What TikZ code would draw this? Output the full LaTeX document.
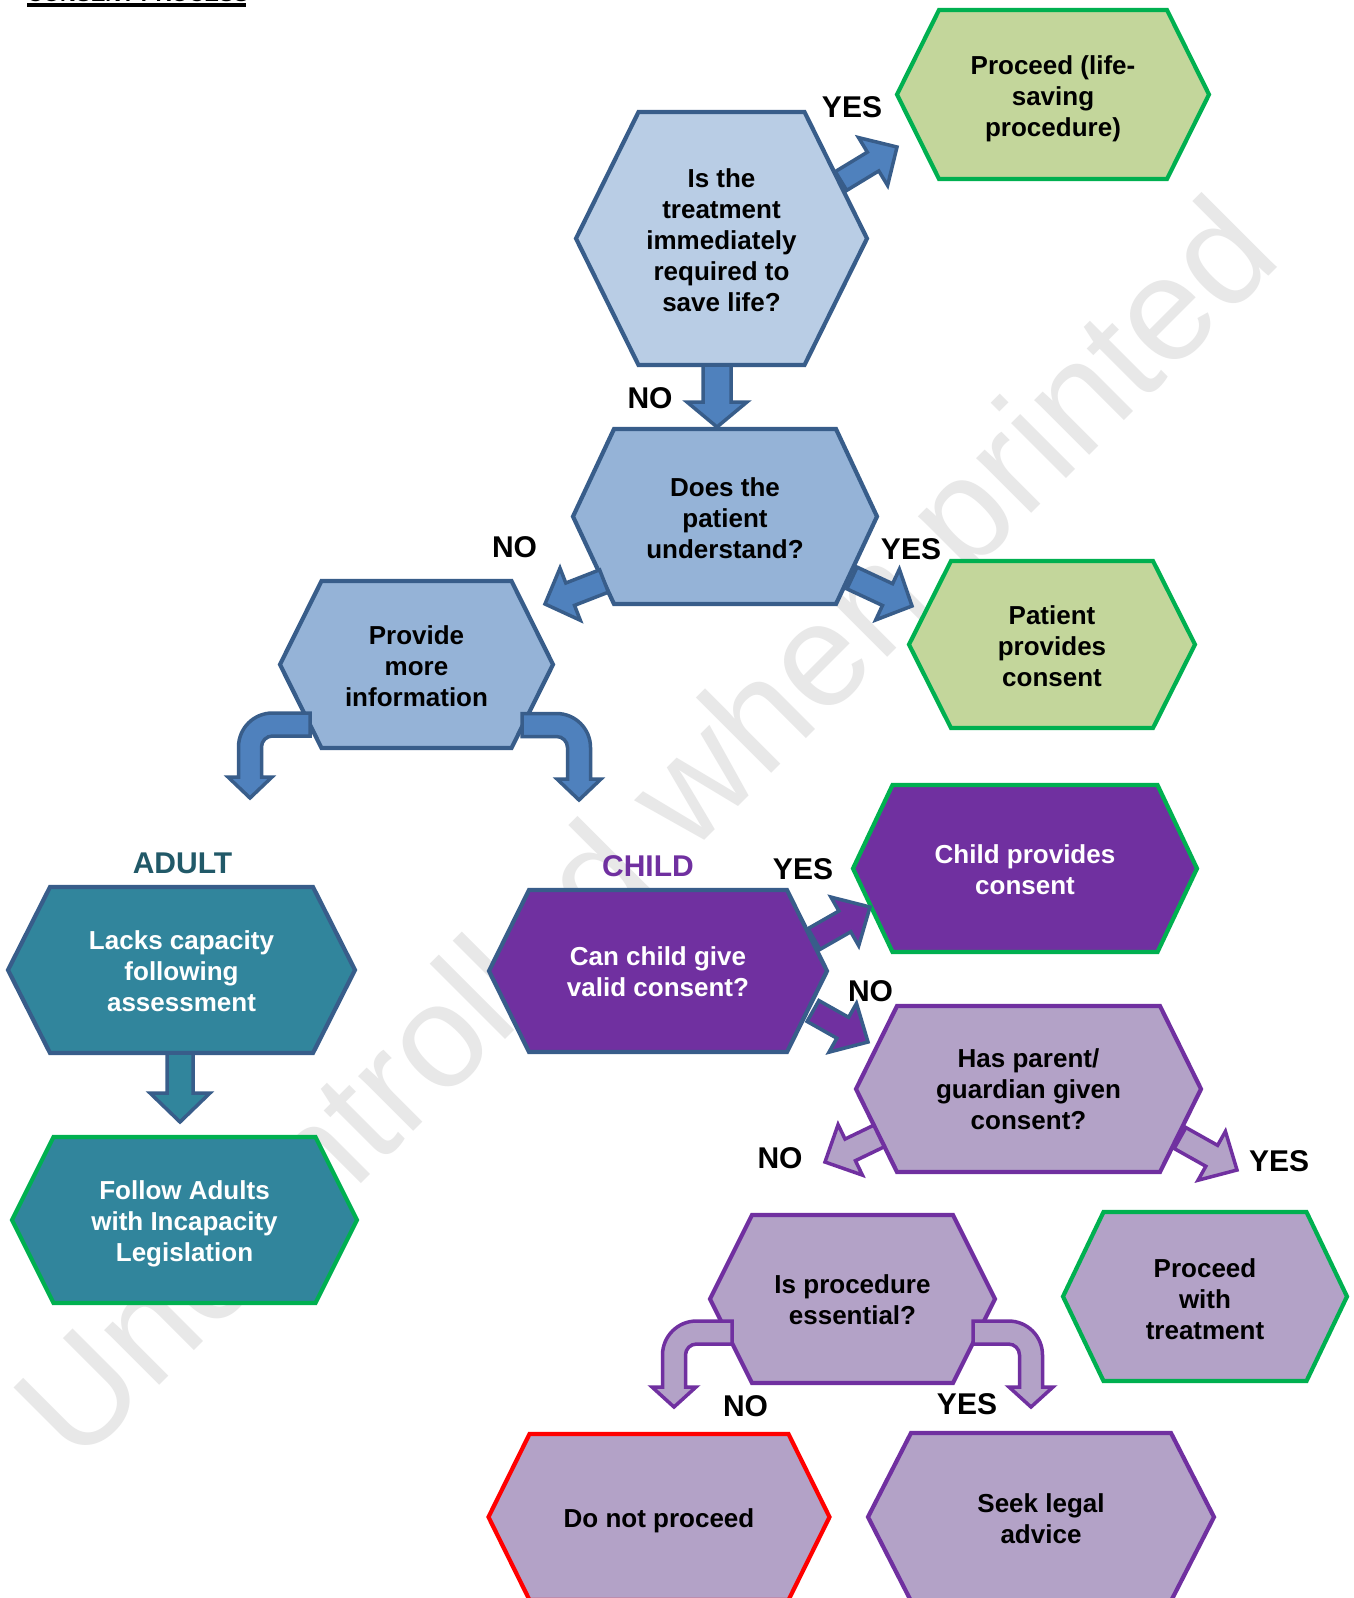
\documentclass[tikz,border=0pt]{standalone}
\usepackage{fontspec}
\setmainfont{Liberation Sans}
\newfontfamily\wmfont{Liberation Sans}
\usetikzlibrary{calc}
\definecolor{cBD}{RGB}{56,93,138}
\definecolor{cLBa}{RGB}{185,205,229}
\definecolor{cLBb}{RGB}{149,179,215}
\definecolor{cAB}{RGB}{79,129,189}
\definecolor{cGF}{RGB}{195,214,155}
\definecolor{cGL}{RGB}{0,176,80}
\definecolor{cTeal}{RGB}{49,133,156}
\definecolor{cAdult}{RGB}{33,89,104}
\definecolor{cPur}{RGB}{112,48,160}
\definecolor{cLav}{RGB}{179,162,199}
\definecolor{cRed}{RGB}{255,0,0}
\definecolor{cWM}{RGB}{232,232,232}
\tikzset{
  hexbase/.style={line width=4.2pt},
  ntext/.style={font=\fontsize{26}{31}\selectfont\bfseries, align=center, inner sep=0pt},
  lbl/.style={font=\fontsize{30}{30}\selectfont\bfseries, inner sep=0pt},
  bluearrow/.style={fill=cAB, draw=cBD, line width=3.5pt},
  tealarrow/.style={fill=cTeal, draw=cBD, line width=3.5pt},
  purarrow/.style={fill=cPur, draw=cBD, line width=3.5pt},
  lavarrow/.style={fill=cLav, draw=cPur, line width=3.5pt},
}
% hexagon: name, cx, cy, half top width, half point width, half height, style, text options, text
\newcommand\hexnode[9]{%
  \draw[hexbase,#7] ({#2-#5},{#3}) -- ({#2-#4},{#3-#6}) -- ({#2+#4},{#3-#6}) -- ({#2+#5},{#3})
     -- ({#2+#4},{#3+#6}) -- ({#2-#4},{#3+#6}) -- cycle;
  \node[ntext,#8] (#1) at (#2,#3) {#9};
}
% straight block arrow: style, from, to, body half width, head half width, head length
\newcommand\barrow[6]{%
  \coordinate (bh) at ($(#3)!#6!(#2)$);
  \draw[#1] ($(#2)!#4!90:(#3)$) -- ($(bh)!#4!90:(#3)$) -- ($(bh)!#5!90:(#3)$) -- (#3)
     -- ($(bh)!#5!-90:(#3)$) -- ($(bh)!#4!-90:(#3)$) -- ($(#2)!#4!-90:(#3)$) -- cycle;
}
% bent block arrow: style, tail x, horizontal centre y, vertical centre x, wing y, tip y, side (+1 right, -1 left)
\newcommand\bentarrow[7]{%
  \pgfmathsetmacro\bab{11.5}%
  \pgfmathsetmacro\bah{22}%
  \pgfmathsetmacro\baRo{34}%
  \pgfmathsetmacro\baRi{\baRo-2*\bab}%
  \pgfmathsetmacro\bayt{#3-\bab}%
  \pgfmathsetmacro\bayb{#3+\bab}%
  \pgfmathsetmacro\baxo{#4+(#7)*\bab}%
  \pgfmathsetmacro\baxi{#4-(#7)*\bab}%
  \pgfmathsetmacro\bacx{\baxo-(#7)*\baRo}%
  \pgfmathsetmacro\bacy{\bayt+\baRo}%
  \pgfmathsetmacro\bako{0.5523*\baRo}%
  \pgfmathsetmacro\baki{0.5523*\baRi}%
  \draw[#1] (#2,\bayt) -- (\bacx,\bayt) .. controls ({\bacx+(#7)*\bako},\bayt) and (\baxo,{\bacy-\bako}) .. (\baxo,\bacy)
     -- (\baxo,#5) -- ({#4+(#7)*\bah},#5) -- (#4,#6) -- ({#4-(#7)*\bah},#5) -- (\baxi,#5) -- (\baxi,\bacy)
     .. controls (\baxi,{\bacy-\baki}) and ({\bacx+(#7)*\baki},\bayb) .. (\bacx,\bayb) -- (#2,\bayb) -- cycle;
}
\begin{document}
\begin{tikzpicture}[x=1pt,y=-1pt]
\useasboundingbox (0,0) rectangle (1354,1598);
\clip (0,0) rectangle (1354,1598);
\fill[white] (0,0) rectangle (1354,1598);

% watermark
\node[font=\wmfont\fontsize{147}{147}\selectfont, text=cWM, rotate=45, anchor=base, inner sep=0pt] (wm) at (681,864) {Uncontrolled when printed};

% title (cut off at top)
\node[anchor=base west, font=\fontsize{22}{22}\selectfont\bfseries, inner sep=0pt] (title) at (27,1.5) {CONSENT PROCESS};
\fill[black] (27,2.5) rectangle (246,7);

% hexagons
\hexnode{q1}{721.5}{238.5}{83}{145.5}{126.5}{fill=cLBa,draw=cBD}{text=black,yshift=-2pt}{Is the\\treatment\\immediately\\required to\\save life?}
\hexnode{pls}{1053}{94.5}{114}{156}{84.5}{fill=cGF,draw=cGL}{text=black,yshift=-4pt}{Proceed (life-\\saving\\procedure)}
\hexnode{und}{725}{516.5}{111}{152}{87.5}{fill=cLBb,draw=cBD}{text=black,yshift=-2pt}{Does the\\patient\\understand?}
\hexnode{ppc}{1052}{644.5}{101}{143}{83.5}{fill=cGF,draw=cGL}{text=black,yshift=-2pt}{Patient\\provides\\consent}
\hexnode{pmi}{416.5}{664.5}{95}{136.5}{83.5}{fill=cLBb,draw=cBD}{text=black,yshift=-2pt}{Provide\\more\\information}
\hexnode{lca}{181.5}{970}{131.5}{173.5}{83}{fill=cTeal,draw=cBD}{text=white,yshift=-1pt}{Lacks capacity\\following\\assessment}
\hexnode{fai}{184.5}{1220}{131}{172.5}{83}{fill=cTeal,draw=cGL}{text=white,yshift=-4pt}{Follow Adults\\with Incapacity\\Legislation}
\hexnode{ccg}{658}{971}{129}{169}{81}{fill=cPur,draw=cBD}{text=white,yshift=-1pt}{Can child give\\valid consent?}
\hexnode{cpc}{1025}{868.5}{132.5}{172}{83.5}{fill=cPur,draw=cGL}{text=white,yshift=-1pt}{Child provides\\consent}
\hexnode{hpg}{1028.5}{1089}{131.5}{172.5}{83}{fill=cLav,draw=cPur}{text=black}{Has parent/\\guardian given\\consent?}
\hexnode{pwt}{1205}{1296.5}{101.5}{142}{84.5}{fill=cLav,draw=cGL}{text=black,yshift=-3pt}{Proceed\\with\\treatment}
\hexnode{ipe}{852.5}{1299}{100.5}{142.5}{84}{fill=cLav,draw=cPur}{text=black,yshift=-1pt}{Is procedure\\essential?}
\hexnode{dnp}{659}{1517}{129.5}{170.5}{83}{fill=cLav,draw=cRed}{text=black,yshift=-4pt}{Do not proceed}
\hexnode{sla}{1041}{1517}{130}{173}{84}{fill=cLav,draw=cPur}{text=black,yshift=-2pt}{Seek legal\\advice}

% arrow end points
\coordinate (a1s) at (841,181);   \coordinate (a1t) at (897,147);
\coordinate (a2s) at (717,365);   \coordinate (a2t) at (717,427);
\coordinate (a3s) at (604,581);   \coordinate (a3t) at (545,604);
\coordinate (a4s) at (852,578);   \coordinate (a4t) at (912,606);
\coordinate (a7s) at (180,1053);  \coordinate (a7t) at (180,1122);
\coordinate (a8s) at (814,939);   \coordinate (a8t) at (870,907);
\coordinate (a9s) at (813,1011);  \coordinate (a9t) at (868,1042);
\coordinate (a10s) at (879,1136); \coordinate (a10t) at (825,1162);
\coordinate (a13s) at (1180,1138);\coordinate (a13t) at (1237,1170);

\barrow{bluearrow}{a1s}{a1t}{11pt}{28pt}{28pt}
\barrow{bluearrow}{a2s}{a2t}{14pt}{30pt}{25pt}
\barrow{bluearrow}{a3s}{a3t}{12pt}{28pt}{27pt}
\barrow{bluearrow}{a4s}{a4t}{12pt}{28pt}{27pt}
\barrow{tealarrow}{a7s}{a7t}{13pt}{30pt}{29pt}
\barrow{purarrow}{a8s}{a8t}{12pt}{28pt}{29pt}
\barrow{purarrow}{a9s}{a9t}{12pt}{28pt}{29pt}
\barrow{lavarrow}{a10s}{a10t}{12pt}{28pt}{28pt}
\barrow{lavarrow}{a13s}{a13t}{12pt}{28pt}{29pt}

\bentarrow{bluearrow}{310}{724.5}{250}{777}{798}{-1}
\bentarrow{bluearrow}{522}{725}{579}{779}{800}{1}
\bentarrow{lavarrow}{732}{1332.5}{674}{1387}{1407}{-1}
\bentarrow{lavarrow}{973}{1332.5}{1031}{1387}{1407}{1}

% labels
\node[lbl] (yes1) at (852,107.5) {YES};
\node[lbl] (no1) at (650,398) {NO};
\node[lbl] (no2) at (514.5,547) {NO};
\node[lbl] (yes2) at (911,549) {YES};
\node[lbl,text=cAdult] (adult) at (182.5,863) {ADULT};
\node[lbl,text=cPur] (child) at (648,866) {CHILD};
\node[lbl] (yes3) at (803,869) {YES};
\node[lbl] (no3) at (870.5,991.5) {NO};
\node[lbl] (no4) at (780,1158) {NO};
\node[lbl] (yes4) at (1279,1161.5) {YES};
\node[lbl] (no5) at (745.5,1406) {NO};
\node[lbl] (yes5) at (967,1404) {YES};
\end{tikzpicture}
\end{document}
